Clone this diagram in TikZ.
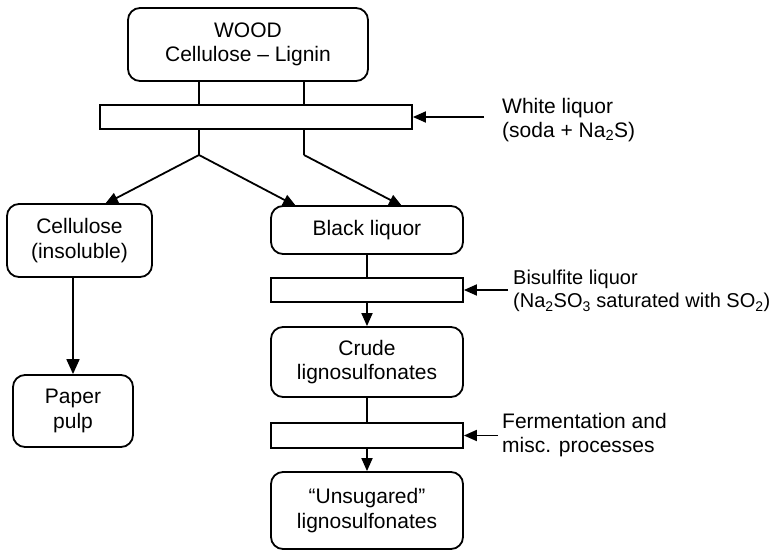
\documentclass[tikz,border=0pt]{standalone}
\usepackage{fontspec}
\setmainfont{Liberation Sans}
\usetikzlibrary{arrows.meta}
\begin{document}
\begin{tikzpicture}[x=1pt,y=-1pt,
  font=\fontsize{21}{24.5}\selectfont,
  box/.style={draw, line width=1.8pt, rounded corners=12pt, align=center, inner sep=0pt},
  barbox/.style={draw, line width=1.8pt, inner sep=0pt},
  conn/.style={line width=1.8pt},
  arr/.style={conn, -{Triangle[length=13pt,width=11pt]}},
  bigarr/.style={conn, -{Triangle[length=15pt,width=13pt]}},
  lbl/.style={anchor=west, align=left, inner sep=0pt}]
\useasboundingbox (0,0) rectangle (779,551);

% boxes
\node[box, minimum width=240pt, minimum height=73pt] (wood) at (248,44.5) {WOOD\\Cellulose – Lignin};
\node[barbox, minimum width=312pt, minimum height=24pt] (bar1) at (256,117) {};
\node[box, minimum width=145pt, minimum height=73pt] (cell) at (79.5,240.5) {Cellulose\\(insoluble)};
\node[box, minimum width=120pt, minimum height=72pt] (paper) at (73,411) {Paper\\pulp};
\node[box, minimum width=192pt, minimum height=48pt] (black) at (367,230) {Black liquor};
\node[barbox, minimum width=192pt, minimum height=24pt] (bar2) at (367,290) {};
\node[box, minimum width=192pt, minimum height=70pt] (crude) at (367,362) {Crude\\lignosulfonates};
\node[barbox, minimum width=192pt, minimum height=25pt] (bar3) at (367,435.5) {};
\node[box, minimum width=192pt, minimum height=77pt] (unsug) at (367,510.5) {“Unsugared”\\lignosulfonates};

% labels
\node[lbl] (white) at (502,120) {White liquor\\(soda + Na\textsubscript{2}S)};
\node[lbl, font=\fontsize{20}{23.5}\selectfont] (bisul) at (513,291) {Bisulfite liquor\\(Na\textsubscript{2}SO\textsubscript{3} saturated with SO\textsubscript{2})};
\node[lbl] (ferm) at (502,435) {Fermentation and\\misc. processes};

% coordinates
\coordinate (j1) at (199,155);
\coordinate (j2) at (304,155);
\coordinate (tc) at (105,204);
\coordinate (tb1) at (296,206);
\coordinate (tb2) at (402,206);
\coordinate (sw) at (484,117);
\coordinate (sb) at (508,290);
\coordinate (sf) at (498,435.5);

% connectors
\draw[conn] (wood.south -| j1) -- (bar1.north -| j1);
\draw[conn] (wood.south -| j2) -- (bar1.north -| j2);
\draw[conn] (bar1.south -| j1) -- (j1);
\draw[conn] (bar1.south -| j2) -- (j2);
\draw[arr] (j1) -- (tc);
\draw[arr] (j1) -- (tb1);
\draw[arr] (j2) -- (tb2);
\draw[arr] (sw) -- (bar1.east);
\draw[bigarr] (cell.south -| paper.north) -- (paper.north);
\draw[conn] (black.south) -- (bar2.north);
\draw[arr] (sb) -- (bar2.east);
\draw[arr] (bar2.south) -- (crude.north);
\draw[conn] (crude.south) -- (bar3.north);
\draw[arr] (sf) -- (bar3.east);
\draw[arr] (bar3.south) -- (unsug.north);
\end{tikzpicture}
\end{document}
